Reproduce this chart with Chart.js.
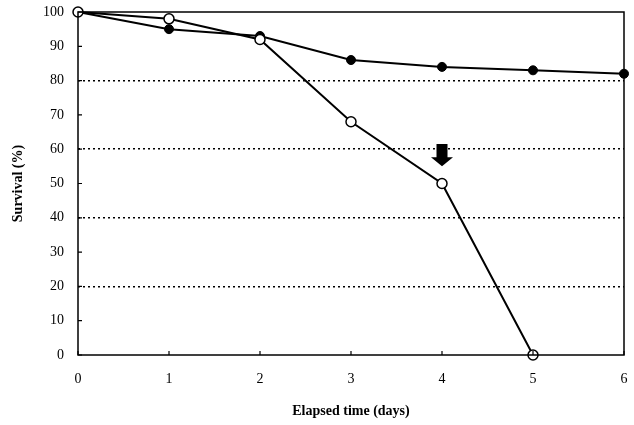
<!DOCTYPE html>
<html>
<head>
<meta charset="utf-8">
<script src="https://cdn.jsdelivr.net/npm/chart.js@4.4.0/dist/chart.umd.min.js"></script>
<style>
  html, body { margin: 0; padding: 0; background: #fff; }
  #wrap { width: 634px; height: 425px; }
</style>
</head>
<body>
<div id="wrap"><canvas id="chart" width="634" height="425"></canvas></div>
<script>
// data
const days = [0, 1, 2, 3, 4, 5, 6];
const survivalFilled = [100, 95, 93, 86, 84, 83, 82];
const survivalOpen = [100, 98, 92, 68, 50, 0];
const yTicks = [0, 10, 20, 30, 40, 50, 60, 70, 80, 90, 100];
const dottedLevels = [20, 40, 60, 80];
// arrow marker above day 4 point (data units)
const arrowDay = 4;
const arrowTop = 61.5;
const arrowTip = 55;

const FONT = '"Liberation Serif", "Times New Roman", serif';

// drop the label overflow padding so the plot box sits where the reference has it
function noPad(s) { s.paddingTop = 0; s.paddingBottom = 0; s.paddingLeft = 0; s.paddingRight = 0; }

// box + inward tick marks + arrow
const decor = {
    id: 'decor',
    afterDraw(chart) {
        const { ctx, chartArea: a, scales: { x, y } } = chart;
        ctx.save();
        ctx.strokeStyle = '#000';
        ctx.lineWidth = 1.5;
        ctx.strokeRect(a.left, a.top, a.right - a.left, a.bottom - a.top);
        ctx.lineWidth = 1.2;
        ctx.beginPath();
        days.forEach(d => { const px = x.getPixelForValue(d); ctx.moveTo(px, a.bottom); ctx.lineTo(px, a.bottom - 4); });
        yTicks.forEach(v => { const py = y.getPixelForValue(v); ctx.moveTo(a.left, py); ctx.lineTo(a.left + 4, py); });
        ctx.stroke();

        // arrow
        const cx = x.getPixelForValue(arrowDay);
        const top = y.getPixelForValue(arrowTop);
        const tip = y.getPixelForValue(arrowTip);
        const headY = tip - 9;
        ctx.fillStyle = '#000';
        ctx.beginPath();
        ctx.moveTo(cx - 5.5, top);
        ctx.lineTo(cx + 5.5, top);
        ctx.lineTo(cx + 5.5, headY);
        ctx.lineTo(cx + 11, headY);
        ctx.lineTo(cx, tip);
        ctx.lineTo(cx - 11, headY);
        ctx.lineTo(cx - 5.5, headY);
        ctx.closePath();
        ctx.fill();
        ctx.restore();
    }
};

new Chart(document.getElementById('chart'), {
    type: 'line',
    data: {
        datasets: [
            {
                label: 'open',
                data: survivalOpen.map((v, i) => ({ x: days[i], y: v })),
                borderColor: '#000', borderWidth: 2,
                pointBackgroundColor: '#fff', pointBorderColor: '#000',
                pointRadius: 5, pointBorderWidth: 1.5, tension: 0
            },
            {
                label: 'filled',
                data: days.map((d, i) => ({ x: d, y: survivalFilled[i] })),
                borderColor: '#000', borderWidth: 2,
                pointBackgroundColor: '#000', pointBorderColor: '#000',
                pointRadius: 4.5, pointBorderWidth: 1, tension: 0
            }
        ]
    },
    options: {
        responsive: false,
        animation: false,
        clip: false,
        layout: { autoPadding: false, padding: { top: 12, right: 10, left: 0, bottom: 0 } },
        plugins: { legend: { display: false }, tooltip: { enabled: false } },
        scales: {
            x: {
                type: 'linear', min: 0, max: 6,
                afterFit: s => { s.height = 70; noPad(s); },
                grid: { display: false, drawTicks: false },
                border: { display: false },
                ticks: { stepSize: 1, padding: 16, color: '#000', font: { family: FONT, size: 14 } },
                title: { display: true, text: 'Elapsed time (days)', color: '#000',
                    font: { family: FONT, size: 14, weight: 'bold' }, padding: { top: 0, bottom: 5 } }
            },
            y: {
                min: 0, max: 100,
                afterFit: s => { s.width = 78; noPad(s); },
                afterBuildTicks: s => { s.ticks = yTicks.map(v => ({ value: v })); },
                grid: {
                    drawTicks: false,
                    color: c => dottedLevels.includes(c.tick.value) ? '#000' : 'rgba(0,0,0,0)',
                    lineWidth: 1.5
                },
                border: { display: false, dash: [2, 3] },
                ticks: { padding: 14, color: '#000', font: { family: FONT, size: 14 } },
                title: { display: true, text: 'Survival (%)', color: '#000',
                    font: { family: FONT, size: 14, weight: 'bold' }, padding: { top: 10, bottom: 0 } }
            }
        }
    },
    plugins: [decor]
});
</script>
</body>
</html>
